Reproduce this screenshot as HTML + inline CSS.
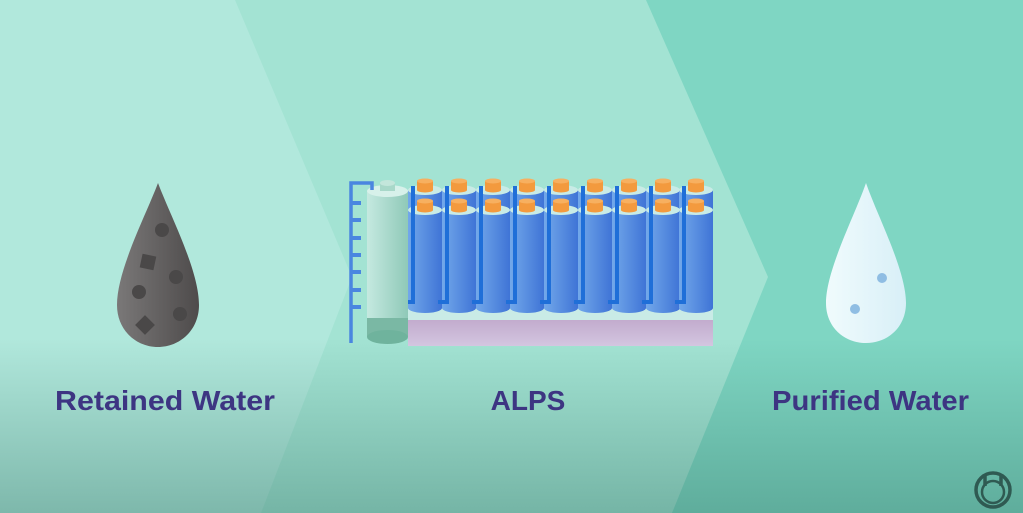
<!DOCTYPE html>
<html><head><style>
html,body{margin:0;padding:0;width:1023px;height:513px;overflow:hidden}
svg{display:block}
text{font-family:"Liberation Sans",sans-serif;font-weight:bold;fill:#3d3582}
</style></head><body>
<svg width="1023" height="513" viewBox="0 0 1023 513" xmlns="http://www.w3.org/2000/svg">
<defs>
<linearGradient id="shade" x1="0" y1="0" x2="0" y2="1">
<stop offset="0.66" stop-color="#2a6a5c" stop-opacity="0"/>
<stop offset="1" stop-color="#2a6a5c" stop-opacity="0.38"/>
</linearGradient>
<linearGradient id="drop" x1="0" y1="0" x2="1" y2="0">
<stop offset="0" stop-color="#7a7878"/><stop offset="1" stop-color="#4e4b4b"/>
</linearGradient>
<linearGradient id="wdrop" x1="0" y1="0" x2="1" y2="0">
<stop offset="0" stop-color="#f0fbfd"/><stop offset="1" stop-color="#d8eff7"/>
</linearGradient>
<linearGradient id="cyl" x1="0" y1="0" x2="1" y2="0">
<stop offset="0" stop-color="#72a8ea"/><stop offset="1" stop-color="#3f74d6"/>
</linearGradient>
<linearGradient id="tank" x1="0" y1="0" x2="1" y2="0">
<stop offset="0" stop-color="#c5e9e0"/><stop offset="1" stop-color="#8fc9b8"/>
</linearGradient>
<linearGradient id="base" x1="0" y1="0" x2="0" y2="1">
<stop offset="0" stop-color="#c1a9cc"/><stop offset="1" stop-color="#d3c6e0"/>
</linearGradient>
<g id="back">
<rect x="0" y="190" width="34" height="30" fill="url(#cyl)"/>
<ellipse cx="17" cy="190" rx="17" ry="5" fill="#c9ebe6"/>
<rect x="9" y="181" width="16" height="9" fill="#f39a3e"/>
<ellipse cx="17" cy="190" rx="8" ry="2.5" fill="#f39a3e"/>
<ellipse cx="17" cy="181" rx="8" ry="2.5" fill="#f7b060"/>
</g>
<g id="front">
<ellipse cx="17" cy="312" rx="17" ry="6" fill="#c9ebe6"/>
<rect x="0" y="210" width="34" height="98" fill="url(#cyl)"/>
<ellipse cx="17" cy="308" rx="17" ry="5" fill="url(#cyl)"/>
<ellipse cx="17" cy="210" rx="17" ry="5" fill="#c9ebe6"/>
<rect x="9" y="201" width="16" height="9" fill="#f39a3e"/>
<ellipse cx="17" cy="210" rx="8" ry="2.5" fill="#f39a3e"/>
<ellipse cx="17" cy="201" rx="8" ry="2.5" fill="#f7b060"/>
</g>
<path id="pipe" d="M5,186 V302 H-4" stroke="#1f6fd8" stroke-width="4" fill="none"/>
</defs>
<rect width="1023" height="513" fill="#7fd6c3"/>
<polygon points="0,0 646,0 768,277 672,513 0,513" fill="#a3e3d3"/>
<polygon points="0,0 235,0 352,277 261,513 0,513" fill="#b1e8dc"/>
<rect width="1023" height="513" fill="url(#shade)"/>

<path d="M158,183 C170,215 199,270 199,305 C199,330 180,347 158,347 C136,347 117,330 117,305 C117,270 146,215 158,183 Z" fill="url(#drop)"/>
<g fill="#4a4848">
<circle cx="162" cy="230" r="7"/>
<rect x="141" y="255" width="14" height="14" transform="rotate(12 148 262)"/>
<circle cx="176" cy="277" r="7"/>
<circle cx="139" cy="292" r="7"/>
<circle cx="180" cy="314" r="7"/>
<rect x="138" y="318" width="14" height="14" transform="rotate(45 145 325)"/>
</g>

<path d="M866,183 C877,215 906,270 906,303 C906,327 888,343 866,343 C844,343 826,327 826,303 C826,270 855,215 866,183 Z" fill="url(#wdrop)"/>
<circle cx="882" cy="278" r="5" fill="#8fbde3"/>
<circle cx="855" cy="309" r="5" fill="#8fbde3"/>

<rect x="408" y="318" width="305" height="28" fill="url(#base)"/>
<rect x="408" y="308" width="305" height="12" fill="#c9ebe6"/>
<use href="#back" x="408"/><use href="#back" x="442"/><use href="#back" x="476"/>
<use href="#back" x="510"/><use href="#back" x="544"/><use href="#back" x="578"/>
<use href="#back" x="612"/><use href="#back" x="646"/><use href="#back" x="679"/>
<use href="#front" x="408"/><use href="#front" x="442"/><use href="#front" x="476"/>
<use href="#front" x="510"/><use href="#front" x="544"/><use href="#front" x="578"/>
<use href="#front" x="612"/><use href="#front" x="646"/><use href="#front" x="679"/>
<use href="#pipe" x="408"/><use href="#pipe" x="442"/><use href="#pipe" x="476"/>
<use href="#pipe" x="510"/><use href="#pipe" x="544"/><use href="#pipe" x="578"/>
<use href="#pipe" x="612"/><use href="#pipe" x="646"/><use href="#pipe" x="679"/>

<rect x="367" y="191" width="41" height="146" fill="url(#tank)"/>
<rect x="367" y="318" width="41" height="19" fill="#7ab8a4"/>
<ellipse cx="387.5" cy="337" rx="20.5" ry="7" fill="#6fb39d"/>
<ellipse cx="387.5" cy="191" rx="20.5" ry="6" fill="#d7f1ea"/>
<rect x="380" y="183" width="15" height="8" fill="#a8d8c9"/>
<ellipse cx="387.5" cy="183" rx="7.5" ry="3" fill="#c3e6db"/>
<path d="M351,343 V183 H372 V190" stroke="#4a86e0" stroke-width="3.5" fill="none"/>
<g fill="#4a86e0">
<rect x="351" y="201" width="10" height="4"/><rect x="351" y="218" width="10" height="4"/>
<rect x="351" y="236" width="10" height="4"/><rect x="351" y="253" width="10" height="4"/>
<rect x="351" y="270" width="10" height="4"/><rect x="351" y="288" width="10" height="4"/>
<rect x="351" y="305" width="10" height="4"/>
</g>

<text x="55" y="410" font-size="28" textLength="220" lengthAdjust="spacingAndGlyphs">Retained Water</text>
<text x="528" y="410" font-size="28" text-anchor="middle">ALPS</text>
<text x="772" y="410" font-size="28" textLength="197" lengthAdjust="spacingAndGlyphs">Purified Water</text>

<g fill="none" stroke="#2f5a52" stroke-width="3.5">
<circle cx="993" cy="490" r="17"/>
<circle cx="993" cy="492" r="11" stroke-width="2.5"/>
<path d="M985,476 v10 M1001,476 v10"/>
</g>
</svg>
</body></html>
